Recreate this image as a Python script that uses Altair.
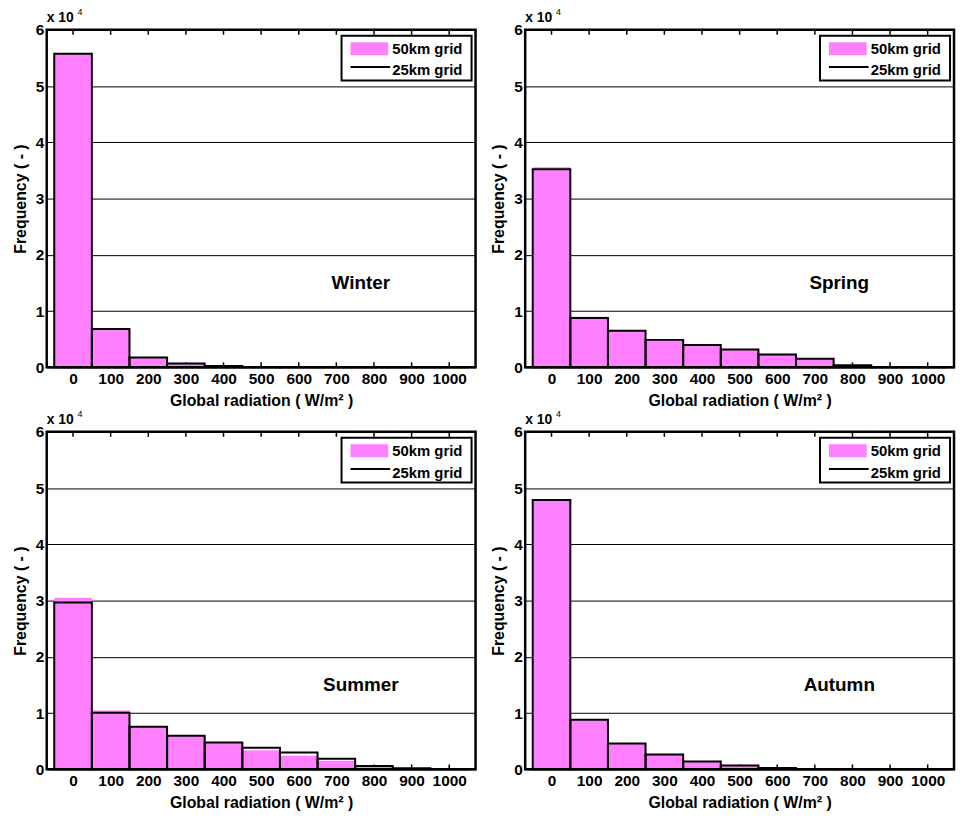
import altair as alt
import pandas as pd

# ---- data ----
centers = [0, 100, 200, 300, 400, 500, 600, 700, 800, 900, 1000]
seasons = ["Winter", "Spring", "Summer", "Autumn"]

winter_50 = [55760, 6850, 1760, 700, 240, 60, 20, 10, 0, 0, 0]
winter_25 = [55760, 6800, 1740, 690, 230, 60, 20, 10, 0, 0, 0]
spring_50 = [35550, 9000, 6520, 4900, 4000, 3200, 2300, 1550, 330, 50, 0]
spring_25 = [35200, 8750, 6500, 4880, 3980, 3170, 2280, 1540, 350, 60, 0]
summer_50 = [30500, 10460, 7600, 6000, 4820, 3400, 2420, 1530, 550, 150, 30]
summer_25 = [29670, 10050, 7580, 5980, 4780, 3820, 3000, 1880, 600, 180, 50]
autumn_50 = [48060, 8820, 4600, 2650, 1420, 720, 250, 60, 20, 0, 0]
autumn_25 = [47900, 8800, 4580, 2640, 1410, 700, 240, 60, 20, 0, 0]

y_ticks = [0, 10000, 20000, 30000, 40000, 50000, 60000]
legend_labels = ["50km grid", "25km grid"]
x_title = "Global radiation ( W/m\u00b2 )"
y_title = "Frequency ( - )"

PINK = "#ff80ff"
FONT = "Liberation Sans"
W, H = 432, 340

xscale = alt.Scale(domain=[-70, 1070], nice=False, zero=False)
yscale = alt.Scale(domain=[0, 60000], nice=False)


def panel(name, v50, v25):
    df = pd.DataFrame({"center": centers, "v50": v50, "v25": v25})
    base = alt.Chart(df).transform_calculate(
        left="datum.center - 50", right="datum.center + 50"
    )
    xaxis = alt.Axis(values=centers, format="d", title=x_title, grid=False,
                     domain=False, ticks=False, labelPadding=4, titlePadding=6,
                     labelFontSize=15.5, titleFontSize=16, labelFont=FONT,
                     titleFont=FONT, labelFontWeight="bold",
                     titleFontWeight="bold", labelColor="black",
                     titleColor="black", labelFlush=False)
    yaxis = alt.Axis(values=y_ticks, title=y_title, grid=True,
                     gridColor="black", gridWidth=1, gridOpacity=1,
                     domain=False, ticks=False, labelPadding=3,
                     titlePadding=7, labelExpr="datum.value / 10000",
                     labelFontSize=15.5, titleFontSize=16, labelFont=FONT,
                     titleFont=FONT, labelFontWeight="bold",
                     titleFontWeight="bold", labelColor="black",
                     titleColor="black")

    ticks_bottom = base.mark_rule(color="black", strokeWidth=1.5).encode(
        x=alt.X("center:Q", scale=xscale, axis=xaxis),
        y=alt.value(H), y2=alt.value(H - 5))
    ticks_top = base.mark_rule(color="black", strokeWidth=1.5).encode(
        x=alt.X("center:Q", scale=xscale),
        y=alt.value(0), y2=alt.value(5))

    pink = base.mark_rect(color=PINK).encode(
        x=alt.X("left:Q", scale=xscale),
        x2="right:Q",
        y=alt.Y("v50:Q", scale=yscale, axis=yaxis),
        y2=alt.datum(0))
    black = base.mark_rect(fillOpacity=0, stroke="black", strokeWidth=2).encode(
        x=alt.X("left:Q", scale=xscale),
        x2="right:Q",
        y=alt.Y("v25:Q", scale=yscale),
        y2=alt.datum(0))

    one = alt.Chart(pd.DataFrame({"a": [0]}))
    frame = one.mark_rect(fillOpacity=0, stroke="black", strokeWidth=2.5).encode(
        x=alt.value(0), x2=alt.value(W), y=alt.value(0), y2=alt.value(H))

    label = one.mark_text(font=FONT, fontWeight="bold", fontSize=19,
                          color="black", align="center", baseline="middle").encode(
        x=alt.datum(765, scale=xscale), y=alt.datum(15000, scale=yscale),
        text=alt.value(name))

    exp_main = one.mark_text(font=FONT, fontWeight="bold", fontSize=14,
                             color="black", align="left", baseline="middle").encode(
        x=alt.value(0), y=alt.value(-12), text=alt.value("x 10"))
    exp_sup = one.mark_text(font=FONT, fontSize=9, color="black",
                            align="left", baseline="middle").encode(
        x=alt.value(31), y=alt.value(-18), text=alt.value("4"))

    leg_box = one.mark_rect(fill="white", stroke="black", strokeWidth=2).encode(
        x=alt.value(W - 135), x2=alt.value(W - 4),
        y=alt.value(6), y2=alt.value(51))
    leg_sw = one.mark_rect(color=PINK).encode(
        x=alt.value(W - 126), x2=alt.value(W - 88),
        y=alt.value(12.5), y2=alt.value(25.5))
    leg_line = one.mark_rule(color="black", strokeWidth=2).encode(
        x=alt.value(W - 126), x2=alt.value(W - 86), y=alt.value(37.5))
    leg_t1 = one.mark_text(font=FONT, fontWeight="bold", fontSize=15,
                           color="black", align="left", baseline="middle").encode(
        x=alt.value(W - 84), y=alt.value(19.5), text=alt.value(legend_labels[0]))
    leg_t2 = one.mark_text(font=FONT, fontWeight="bold", fontSize=15,
                           color="black", align="left", baseline="middle").encode(
        x=alt.value(W - 84), y=alt.value(41), text=alt.value(legend_labels[1]))

    return alt.layer(ticks_bottom, ticks_top, pink, black, frame, label,
                     exp_main, exp_sup, leg_box, leg_sw, leg_line, leg_t1,
                     leg_t2).properties(width=W, height=H)


p1 = panel(seasons[0], winter_50, winter_25)
p2 = panel(seasons[1], spring_50, spring_25)
p3 = panel(seasons[2], summer_50, summer_25)
p4 = panel(seasons[3], autumn_50, autumn_25)

chart = alt.concat(
    p1, p2, p3, p4, columns=2,
    spacing={"row": 65, "column": 50},
    bounds="flush",
).properties(
    padding={"left": 3, "top": -4, "right": 0, "bottom": 0}
).configure_view(
    strokeWidth=0
).configure(background="white")

chart.save("out.html", embed_options={"renderer": "svg", "actions": False})
